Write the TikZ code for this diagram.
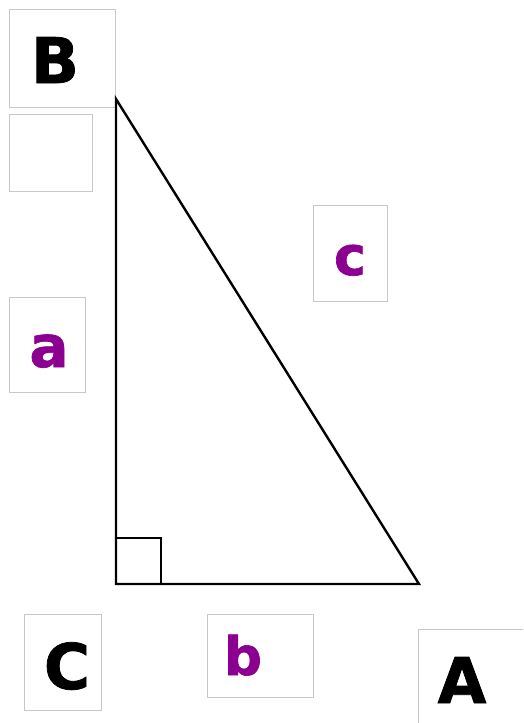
\documentclass[tikz,border=0pt]{standalone}
\usepackage{fontspec}
\setmainfont{DejaVu Sans}[BoldFeatures={FakeBold=1.2}]
\definecolor{lblpurple}{RGB}{140,0,145}
\definecolor{boxgray}{RGB}{200,200,200}
\begin{document}
\begin{tikzpicture}[x=1pt,y=-1pt,
  lbox/.style={draw=boxgray,line width=0.9pt,fill=white,inner sep=0pt,outer sep=0pt,anchor=north west},
  vtx/.style={font=\fontsize{63}{63}\selectfont\bfseries,text=black,anchor=base,inner sep=0pt},
  side/.style={text=lblpurple,anchor=base,inner sep=0pt},
  edge/.style={line width=2.4pt,line join=miter}]
\useasboundingbox (0,0) rectangle (523,723);
% boxes
\node[lbox,minimum width=106pt,minimum height=98pt] (boxB) at (9,9) {};
\node[lbox,minimum width=83pt,minimum height=77pt] (boxE) at (9,114) {};
\node[lbox,minimum width=74pt,minimum height=96pt] (boxc) at (313,205) {};
\node[lbox,minimum width=76pt,minimum height=95pt] (boxa) at (9,297) {};
\node[lbox,minimum width=77pt,minimum height=96pt] (boxC) at (24,614) {};
\node[lbox,minimum width=106pt,minimum height=83pt] (boxb) at (207,614) {};
\draw[draw=boxgray,line width=0.9pt] (418,723) -- (418,629) -- (523,629);
% triangle
\coordinate (vB) at (116,99);
\coordinate (vC) at (116,584);
\coordinate (vA) at (419,584);
\draw[edge] (vB) -- (vC) -- (vA) -- cycle;
\draw[edge] (vC) ++(0,-46) -| ++(45,46);
% labels
\node[vtx] (B) at (55,83) {B};
\node[vtx] (C) at (67,689) {C};
\node[vtx] (A) at (462,703) {A};
\node[side,font=\fontsize{54}{54}\selectfont\bfseries] (c) at (350,275) {c};
\node[side,font=\fontsize{58}{58}\selectfont\bfseries] (a) at (49,367) {a};
\node[side,font=\fontsize{53}{53}\selectfont\bfseries] (b) at (243,675) {b};
\end{tikzpicture}
\end{document}
